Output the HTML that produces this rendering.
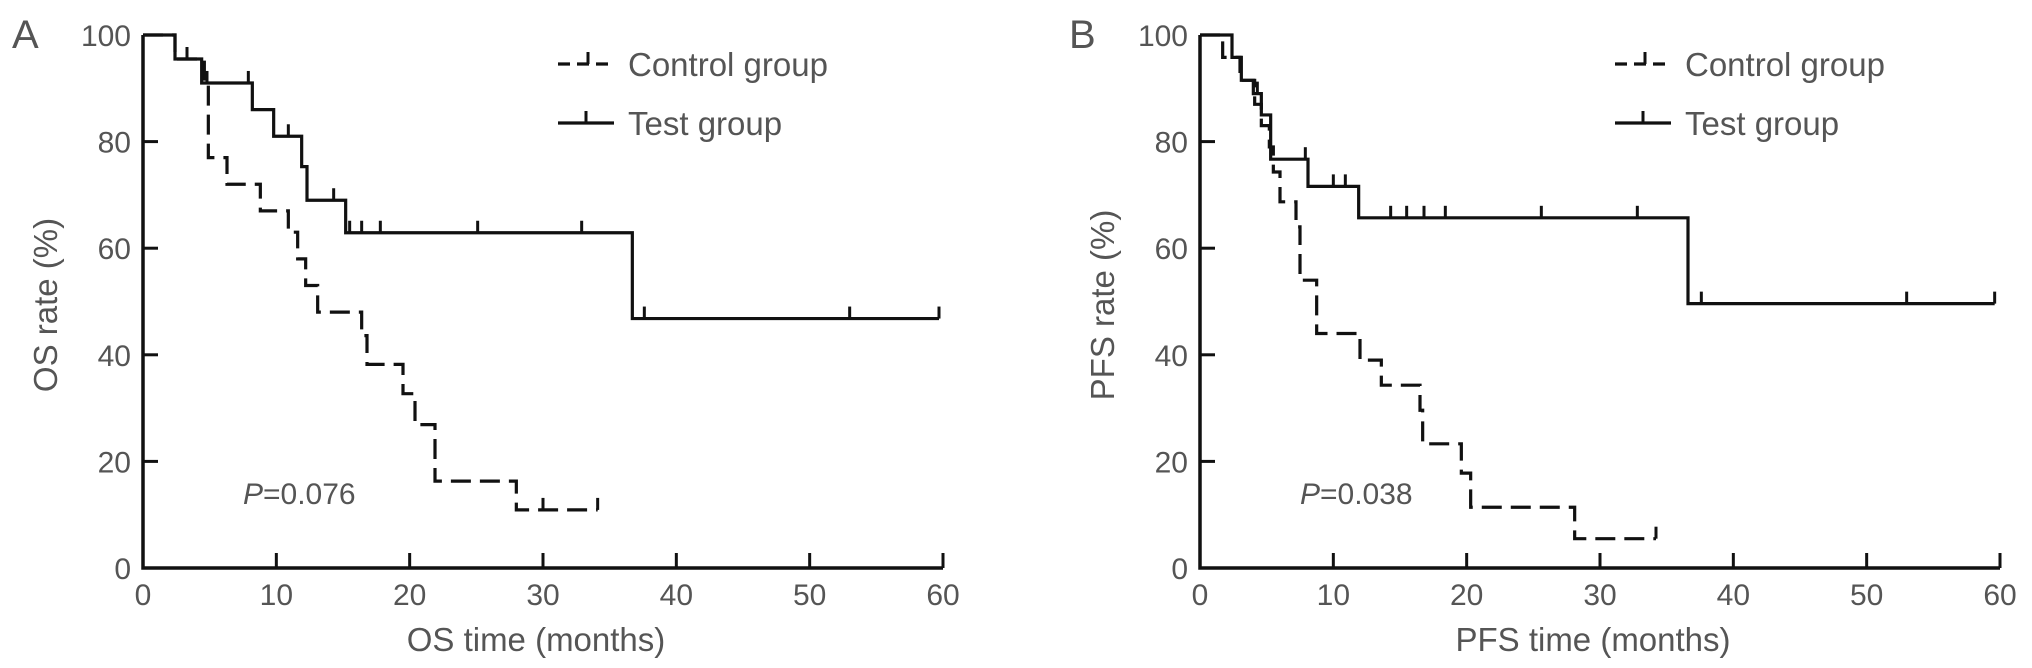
<!DOCTYPE html>
<html><head><meta charset="utf-8"><style>
body{margin:0;background:#fff}
svg{display:block}
text{font-family:"Liberation Sans",Arial,sans-serif;fill:#555}
</style></head><body>
<svg id="fig" width="2032" height="668" viewBox="0 0 2032 668" xmlns="http://www.w3.org/2000/svg"></svg>
<script>
// ---- data ----
const xTicks=[0,10,20,30,40,50,60];
const yTicks=[0,20,40,60,80,100];
// Panel A (OS)
const osControlTimes=[0,2.4,4.6,4.9,6.3,8.8,10.9,11.6,12.2,13.1,16.4,16.8,19.5,20.4,21.9,28.0,34.1];
const osControlRates=[100,95.5,91,77,72,67,63,58,53,48,43.6,38.2,32.7,26.9,16.3,10.9,10.9];
const osControlCensor=[3.3,30.0,34.1];
const osTestTimes=[0,2.4,4.4,8.2,9.8,11.9,12.3,15.2,36.7,59.7];
const osTestRates=[100,95.5,91,86,81,75.3,69,62.9,46.8,46.8];
const osTestCensor=[3.3,4.8,7.9,10.9,14.3,15.5,16.4,17.8,25.1,32.9,37.6,53.0,59.7];
// Panel B (PFS)
const pfsControlTimes=[0,1.7,3.0,4.1,4.6,5.2,5.5,6.0,7.2,7.5,8.75,12.0,13.6,16.5,16.7,19.6,20.3,28.1,34.2];
const pfsControlRates=[100,95.8,91.5,87,83,79,74.3,68.7,64,54,44,39,34.3,29.6,23.3,17.8,11.4,5.5,5.5];
const pfsControlCensor=[34.2];
const pfsTestTimes=[0,2.4,3.1,4.0,4.6,5.3,8.1,11.9,36.6,59.6];
const pfsTestRates=[100,95.8,91.5,89,85,76.7,71.6,65.7,49.6,49.6];
const pfsTestCensor=[4.3,7.9,10.0,10.9,14.3,15.5,16.8,18.4,25.6,32.8,37.6,53.0,59.6];

const NS="http://www.w3.org/2000/svg";
const svg=document.getElementById('fig');
function mk(tag,attrs,parent){const e=document.createElementNS(NS,tag);for(const k in attrs)e.setAttribute(k,attrs[k]);(parent||svg).appendChild(e);return e;}

function panel(cfg){
  const g=mk('g',{});
  
  
  const x0=cfg.x0,x1=x0+800,yb=568,yt=35;
  const sx=t=>x0+t*(x1-x0)/60;
  const sy=v=>yb-v*(yb-yt)/100;
  const ax=mk('path',{d:`M${x0},${yt} V${yb} H${x1}`,stroke:'#111','stroke-width':3.5,fill:'none'},g);
  
  
  yTicks.forEach(v=>{
    mk('line',{x1:x0,x2:x0+15,y1:sy(v),y2:sy(v),stroke:'#111','stroke-width':3},g);
    const t=mk('text',{x:x0-12,y:sy(v)+11,'text-anchor':'end','font-size':30},g);
    t.textContent=v;
    
    
  });
  xTicks.forEach(v=>{
    mk('line',{x1:sx(v),x2:sx(v),y1:yb,y2:yb-15,stroke:'#111','stroke-width':3},g);
    const t=mk('text',{x:sx(v),y:605,'text-anchor':'middle','font-size':30},g);
    t.textContent=v;
    
    
  });
  const yt1=mk('text',{x:0,y:0,'text-anchor':'middle','font-size':33,transform:`translate(${x0-86},305) rotate(-90)`},g);
  yt1.textContent=cfg.ylab;
  
  
  const xt=mk('text',{x:x0+393,y:651,'text-anchor':'middle','font-size':33},g);
  xt.textContent=cfg.xlab;
  
  
  const L=mk('text',{x:x0-131,y:48,'font-size':40,fill:'#222'},g);
  L.textContent=cfg.letter;
  
  
  const p=mk('text',{x:x0+100,y:504,'font-size':30},g);
  p.innerHTML='<tspan font-style="italic">P</tspan>='+cfg.p;
  
  
  function series(times,rates,cens,dashed,nm){
    let d=`M${sx(times[0])},${sy(rates[0])}`;
    for(let i=1;i<times.length;i++){d+=` H${sx(times[i])} V${sy(rates[i])}`;}
    const s=mk('path',{d:d,stroke:'#111','stroke-width':3.2,fill:'none','stroke-dasharray':dashed?'20 9':'none'},g);
    
    
    cens.forEach(c=>{
      let v=rates[0];
      for(let i=0;i<times.length;i++){if(times[i]<=c)v=rates[i];}
      const m=mk('line',{x1:sx(c),x2:sx(c),y1:sy(v),y2:sy(v)-12,stroke:'#111','stroke-width':3},g);
      
      
    });
  }
  series(cfg.ct,cfg.cr,cfg.cc,true,'control-curve');
  series(cfg.tt,cfg.tr,cfg.tc,false,'test-curve');
  const lg=mk('g',{},g);
  
  
  mk('path',{d:`M${x0+415},64 H${x0+471}`,stroke:'#111','stroke-width':3.2,'stroke-dasharray':'12 7'},lg);
  mk('line',{x1:x0+445,x2:x0+445,y1:64,y2:52,stroke:'#111','stroke-width':3},lg);
  const t1=mk('text',{x:x0+485,y:76,'font-size':33},lg);t1.textContent='Control group';
  
  
  mk('path',{d:`M${x0+415},123 H${x0+471}`,stroke:'#111','stroke-width':3.2},lg);
  mk('line',{x1:x0+443,x2:x0+443,y1:123,y2:111,stroke:'#111','stroke-width':3},lg);
  const t2=mk('text',{x:x0+485,y:135,'font-size':33},lg);t2.textContent='Test group';
  
  
}
panel({name:'panel-a-os',x0:143,letter:'A',ylab:'OS rate (%)',xlab:'OS time (months)',p:'0.076',
  ct:osControlTimes,cr:osControlRates,cc:osControlCensor,tt:osTestTimes,tr:osTestRates,tc:osTestCensor});
panel({name:'panel-b-pfs',x0:1200,letter:'B',ylab:'PFS rate (%)',xlab:'PFS time (months)',p:'0.038',
  ct:pfsControlTimes,cr:pfsControlRates,cc:pfsControlCensor,tt:pfsTestTimes,tr:pfsTestRates,tc:pfsTestCensor});
</script>
</body></html>
